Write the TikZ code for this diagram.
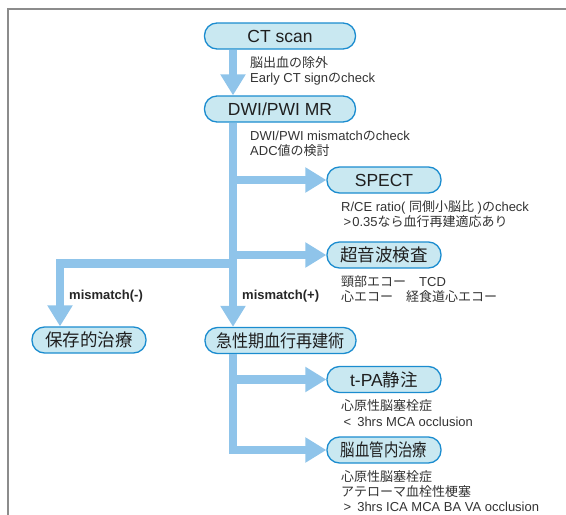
\documentclass[tikz,border=0pt]{standalone}
\usepackage{fontspec}
\usepackage{graphicx}
\setmainfont{Liberation Sans}
\newfontfamily\cjk{Noto Sans CJK JP}
\usetikzlibrary{arrows.meta}
\definecolor{arrowc}{HTML}{8FC4EA}
\definecolor{boxfill}{HTML}{C9E8F1}
\definecolor{boxline}{HTML}{1B8CCF}
\definecolor{txt}{HTML}{333333}
\definecolor{framec}{HTML}{8C8C8C}
\tikzset{
  box/.style={draw=boxline, fill=boxfill, line width=1.3pt, rounded corners=12.5pt,
    minimum height=26pt, inner sep=0pt, text=black!88, font=\fontsize{17.5}{17.5}\selectfont},
  wide/.style={box, minimum width=151pt},
  narrow/.style={box, minimum width=114pt},
  note/.style={anchor=west, inner sep=0pt, align=left, text=txt, font=\fontsize{13}{15.2}\selectfont},
  tag/.style={anchor=west, inner sep=0pt, text=black!85, font=\fontsize{13}{15}\selectfont\bfseries},
  flow/.style={draw=arrowc, line width=8.5pt, line join=miter, -{Triangle[width=24pt,length=21pt]}},
  frame/.style={draw=framec, line width=1.5pt}
}
\begin{document}
\begin{tikzpicture}[x=1pt,y=-1pt]
\useasboundingbox (0,0) rectangle (566,515);
\draw[frame] (8,515) -- (8,9) -- (566,9);

\coordinate (tx) at (233,0);
\coordinate (lturn) at (60,263.5);

\node[wide] (ct) at (280,36) {CT scan};
\node[wide] (dwi) at (280,109) {DWI/PWI MR};
\node[narrow] (spect) at (384,180) {SPECT};
\node[narrow] (us) at (384,255) {\cjk 超音波検査};
\node[narrow] (cons) at (89,340) {\cjk 保存的治療};
\node[wide] (acute) at (280.5,340.5) {\scalebox{0.92}[1]{\cjk 急性期血行再建術}};
\node[narrow] (tpa) at (384,379.5) {t-PA{\cjk 静注}};
\node[narrow] (evt) at (384,450) {\scalebox{0.82}[1]{\cjk 脳血管内治療}};

\draw[flow] (ct.south -| tx) -- (dwi.north -| tx);
\draw[flow] (dwi.south -| tx) -- (acute.north -| tx);
\draw[flow] (tx |- spect) -- (spect.west);
\draw[flow] (tx |- us) -- (us.west);
\draw[flow] (tx |- lturn) -- (lturn) -- (cons.north -| lturn);
\draw[flow] (tx |- tpa) -- (tpa.west);
\draw[flow] (acute.south -| tx) |- (evt.west);

\node[note] (n1) at (250,70.5) {{\cjk 脳出血の除外}\\Early CT sign{\cjk の}check};
\node[note] (n2) at (250,144) {DWI/PWI mismatch{\cjk の}check\\ADC{\cjk 値の検討}};
\node[note] (n3) at (341,214) {R/CE ratio( {\cjk 同側小脳比} ){\cjk の}check\\\hspace{2.5pt}>\hspace{1pt}0.35{\cjk なら血行再建適応あり}};
\node[note] (n4) at (341,289) {{\cjk 頸部エコー　}TCD\\{\cjk 心エコー　経食道心エコー}};
\node[tag] (m1) at (69,296) {mismatch(-)};
\node[tag] (m2) at (242,296) {mismatch(+)};
\node[note] (n5) at (341,413) {{\cjk 心原性脳塞栓症}\\\hspace{2.5pt}<\hspace{6pt}3hrs MCA occlusion};
\node[note] (n6) at (341,491) {{\cjk 心原性脳塞栓症}\\{\cjk アテローマ血栓性梗塞}\\\hspace{2.5pt}>\hspace{6pt}3hrs ICA MCA BA VA occlusion};
\end{tikzpicture}
\end{document}
